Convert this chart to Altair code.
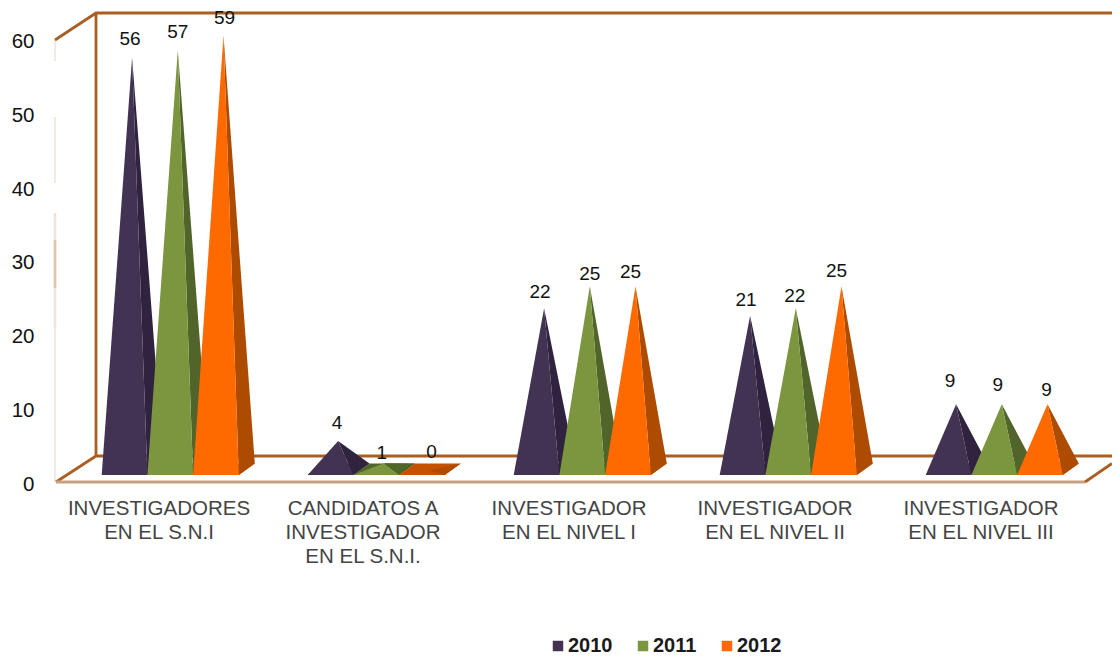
import altair as alt
import pandas as pd

# ---- values ----
categories = [
    "INVESTIGADORES\nEN EL S.N.I",
    "CANDIDATOS A\nINVESTIGADOR\nEN EL S.N.I.",
    "INVESTIGADOR\nEN EL NIVEL I",
    "INVESTIGADOR\nEN EL NIVEL II",
    "INVESTIGADOR\nEN EL NIVEL III",
]
years = ["2010", "2011", "2012"]
series_2010 = [56, 4, 22, 21, 9]
series_2011 = [57, 1, 25, 22, 9]
series_2012 = [59, 0, 25, 25, 9]
y_ticks = [0, 10, 20, 30, 40, 50, 60]

front_colors = ["#433352", "#7b963f", "#ff6a00"]
side_colors = ["#2f2340", "#51652b", "#ad4b00"]
flat_colors = ["#2f2340", "#51652b", "#c45200"]
FRAME = "#a95f24"
FRAME_LIGHT = "#cba080"
FRAME_PALE = "#f0e3d8"
FRAME_MID = "#dfc4ae"
FONT = "Liberation Sans"

# ---- geometry of the fake 3D scene, in scale units ----
PX_PER_UNIT = 7.375
ZERO_PX = 481.5
X_MIN, X_MAX = 55, 1112


def u(py):
    return (ZERO_PX - py) / PX_PER_UNIT


GROUP_LEFT = 101.7
GROUP_STEP = 206
BAR_W = 45.7
APEX_DX = 30.4
DEPTH_X = 16
BASE_FRONT = u(475)
BASE_BACK = u(463.5)
APEX_LIFT = u(470.5)

# hand placement of the value labels relative to each apex (year, then group)
LABEL_NUDGE_X = [[-2, -1, -4, -4, -6], [0, -2, 0, -1, -4], [1, 2, -5, -5, -1]]
LABEL_NUDGE_Y = [[18.5, 18, 16, 16, 23], [18.5, 10, 12, 12, 19], [17, 19, 14, 15, 14]]

series = [series_2010, series_2011, series_2012]
front_rows, side_rows, floor_rows, label_rows = [], [], [], []
for yi, (year, values) in enumerate(zip(years, series)):
    for ci, v in enumerate(values):
        left = GROUP_LEFT + GROUP_STEP * ci + BAR_W * yi
        right = left + BAR_W
        ax = left + APEX_DX
        ay = v + APEX_LIFT
        key = f"{yi}-{ci}"
        back = right + DEPTH_X
        # top of the side face above the front-right corner
        mid = ay + (BASE_BACK - ay) * (right - ax) / (back - ax)
        if v > 0:
            front_rows += [
                dict(year=year, key=key, x=left, y=BASE_FRONT, y2=BASE_FRONT),
                dict(year=year, key=key, x=ax, y=ay, y2=BASE_FRONT),
                dict(year=year, key=key, x=right, y=BASE_FRONT, y2=BASE_FRONT),
            ]
        side_rows += [
            dict(year=year, key=key, x=ax, y=ay, y2=ay),
            dict(year=year, key=key, x=right, y=mid, y2=BASE_FRONT),
            dict(year=year, key=key, x=back, y=BASE_BACK, y2=BASE_BACK),
        ]
        floor_rows += [
            dict(year=year, key=key, x=left, y=BASE_FRONT, y2=BASE_FRONT),
            dict(year=year, key=key, x=left + DEPTH_X, y=BASE_BACK, y2=BASE_FRONT),
            dict(year=year, key=key, x=right, y=BASE_BACK, y2=BASE_FRONT),
            dict(year=year, key=key, x=back, y=BASE_BACK, y2=BASE_BACK),
        ]
        label_rows.append(
            dict(
                x=ax + LABEL_NUDGE_X[yi][ci],
                y=ay + LABEL_NUDGE_Y[yi][ci] / PX_PER_UNIT,
                label=str(v),
            )
        )

front_df = pd.DataFrame(front_rows)
side_df = pd.DataFrame(side_rows)
floor_df = pd.DataFrame(floor_rows)
label_df = pd.DataFrame(label_rows)
cat_df = pd.DataFrame(
    {"label": categories, "x": [159, 363, 569, 775, 981]}
)

x_scale = alt.Scale(domain=[X_MIN, X_MAX], nice=False, zero=False)
y_scale = alt.Scale(domain=[0, u(8)], nice=False, zero=False)
X = alt.X("x:Q", scale=x_scale, axis=None)
Y = alt.Y(
    "y:Q",
    scale=y_scale,
    stack=None,
    axis=alt.Axis(
        values=y_ticks,
        title=None,
        domain=False,
        ticks=False,
        grid=False,
        labelPadding=21,
        labelFontSize=20.5,
        labelOffset=2.5,
        labelFont=FONT,
        labelColor="#111111",
        labelBound=False,
        labelFlush=False,
    ),
)

frame_lines = [
    ("a", FRAME, 2.8, [(55, 40), (96, 13), (X_MAX, 13)]),
    ("b", FRAME, 2.8, [(96, 13), (96, 456)]),
    ("c", FRAME, 2.8, [(56, 482), (96, 456), (X_MAX, 456)]),
    ("d", FRAME_LIGHT, 3, [(56, 482), (1085, 482)]),
    ("e", FRAME, 2.8, [(1085, 482), (X_MAX, 463.5)]),
]
line_rows = []
for name, color, w, pts in frame_lines:
    for i, (px, py) in enumerate(pts):
        line_rows.append(dict(id=name, order=i, x=px, y=u(py), color=color, w=w))
line_df = pd.DataFrame(line_rows)

pale_segments = [
    (40, 61, 1.5, FRAME_PALE),
    (117, 183, 1.5, FRAME_PALE),
    (213, 328, 2.5, FRAME_PALE),
    (240, 288, 2.5, FRAME_MID),
    (328, 482, 1.5, FRAME_PALE),
]
pale_df = pd.DataFrame(
    [dict(x=55, y=u(a), y2=u(b), w=w, color=c) for a, b, w, c in pale_segments]
)

pale_layer = (
    alt.Chart(pale_df)
    .mark_rule()
    .encode(
        x=X,
        y=Y,
        y2="y2:Q",
        color=alt.Color("color:N", scale=None),
        strokeWidth=alt.StrokeWidth("w:Q", scale=None),
    )
)

frame_layer = (
    alt.Chart(line_df)
    .mark_line()
    .encode(
        x=X,
        y=Y,
        order="order:Q",
        detail="id:N",
        color=alt.Color("color:N", scale=None),
        strokeWidth=alt.StrokeWidth("w:Q", scale=None),
    )
)

layers = [pale_layer, frame_layer]
for yi, year in enumerate(years):
    layers.append(
        alt.Chart(floor_df[floor_df.year == year])
        .mark_area(color=flat_colors[yi])
        .encode(x=X, y=Y, y2="y2:Q", detail="key:N")
    )
    layers.append(
        alt.Chart(side_df[side_df.year == year])
        .mark_area(color=side_colors[yi])
        .encode(x=X, y=Y, y2="y2:Q", detail="key:N")
    )
    layers.append(
        alt.Chart(front_df[front_df.year == year])
        .mark_area()
        .encode(
            x=X,
            y=Y,
            y2="y2:Q",
            detail="key:N",
            color=alt.Color(
                "year:N",
                scale=alt.Scale(domain=years, range=front_colors),
                legend=alt.Legend(
                    title=None,
                    orient="none",
                    direction="horizontal",
                    legendX=491,
                    legendY=628,
                    symbolType="square",
                    symbolSize=110,
                    symbolOffset=2,
                    symbolStrokeWidth=0,
                    labelFontSize=20,
                    labelFont=FONT,
                    labelFontWeight="bold",
                    labelColor="#1a1a1a",
                    labelOffset=0,
                    columnPadding=18,
                ),
            ),
        )
    )

label_layer = (
    alt.Chart(label_df)
    .mark_text(font=FONT, fontSize=19, color="#111111", baseline="middle", align="center")
    .encode(x=X, y=Y, text="label:N")
)

cat_layer = (
    alt.Chart(cat_df)
    .mark_text(
        font=FONT,
        fontSize=20.5,
        color="#444444",
        baseline="top",
        align="center",
        lineBreak="\n",
        lineHeight=24,
    )
    .encode(x=X, y=alt.value(490.5), text="label:N")
)

layers += [label_layer, cat_layer]

chart = (
    alt.layer(*layers)
    .properties(
        width=X_MAX - X_MIN,
        height=473.5,
        padding={"left": 47, "top": 0, "right": 0, "bottom": 175},
        autosize=alt.AutoSizeParams(type="none"),
        background="white",
    )
    .configure_view(stroke=None)
)

chart.save("out.html", embed_options={"renderer": "svg", "actions": False})
